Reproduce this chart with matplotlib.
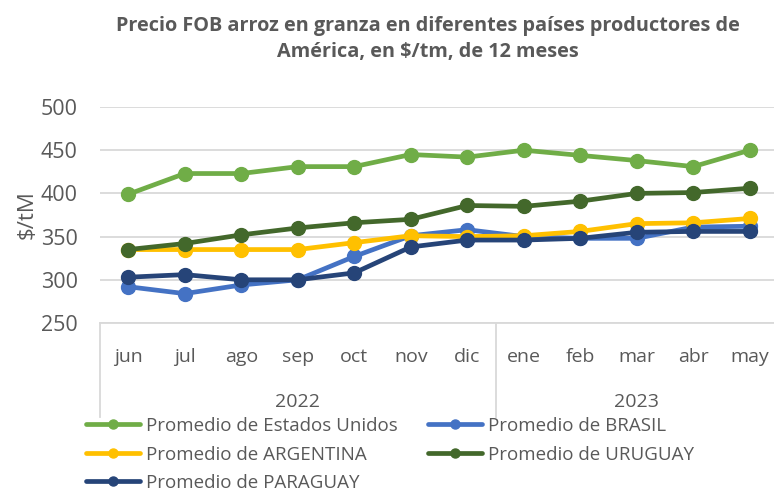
import matplotlib
matplotlib.use('Agg')
import matplotlib.pyplot as plt
import matplotlib.transforms as mtransforms

plt.rcParams['font.family'] = ['Open Sans', 'DejaVu Sans']

months = ['jun', 'jul', 'ago', 'sep', 'oct', 'nov', 'dic', 'ene', 'feb', 'mar', 'abr', 'may']
years = ['2022', '2023']
year_spans = [(0, 6), (7, 11)]

estados_unidos = [399, 423, 423, 431, 431, 445, 442, 450, 444, 438, 431, 450]
brasil = [292, 284, 294, 300, 327, 351, 358, 350, 348, 348, 361, 362]
argentina = [335, 335, 335, 335, 343, 351, 350, 351, 356, 365, 366, 371]
uruguay = [335, 342, 352, 360, 366, 370, 386, 385, 391, 400, 401, 406]
paraguay = [303, 306, 300, 300, 308, 338, 346, 346, 348, 355, 356, 356]

series = [
  ('Promedio de Estados Unidos', estados_unidos, '#70AD47'),
  ('Promedio de BRASIL', brasil, '#4472C4'),
  ('Promedio de ARGENTINA', argentina, '#FFC000'),
  ('Promedio de URUGUAY', uruguay, '#43682B'),
  ('Promedio de PARAGUAY', paraguay, '#264478'),
]

text_color = '#595959'
grid_color = '#D9D9D9'

fig = plt.figure(figsize=(7.74, 4.92), dpi=100)
ax = fig.add_axes([100/774, 1 - 323/492, 678/774, 216/492])

x = list(range(len(months)))
handles = {}
for name, vals, color in series:
  h, = ax.plot(x, vals, color=color, linewidth=3.4, marker='o', markersize=10,
               solid_capstyle='round', label=name, clip_on=False, zorder=3)
  handles[name] = h

ax.set_xlim(-0.5, 11.5)
ax.set_ylim(250, 500)
ax.set_yticks([250, 300, 350, 400, 450, 500])
ax.grid(axis='y', color=grid_color, linewidth=1.3)
ax.set_axisbelow(True)
for s in ['top', 'right', 'left']:
  ax.spines[s].set_visible(False)
ax.spines['bottom'].set_color(grid_color)
ax.spines['bottom'].set_linewidth(1.3)
ax.tick_params(axis='y', length=0, labelsize=15.5, labelcolor=text_color, pad=16)
ax.tick_params(axis='x', length=0, labelsize=14, labelcolor=text_color, pad=18)
ax.set_xticks(x)
ax.set_xticklabels(months)
ax.set_ylabel('$/tM', fontsize=16, color=text_color, labelpad=2)

# multi-level category axis: year labels and separators
trans = mtransforms.blended_transform_factory(ax.transData, ax.transAxes)
for xs in [-0.5, 6.5, 11.5]:
  ax.plot([xs, xs], [0, -0.435], color=grid_color, linewidth=1.3, transform=trans, clip_on=False)
for label, (a, b) in zip(years, year_spans):
  ax.text((a + b) / 2, -0.365, label, transform=trans, ha='center', va='center',
          fontsize=14, color=text_color)

fig.text(428/774, 0.921, 'Precio FOB arroz en granza en diferentes países productores de\nAmérica, en $/tm, de 12 meses',
         ha='center', va='center', fontsize=14.3, fontweight='bold', color=text_color, linespacing=1.4)

order = ['Promedio de Estados Unidos', 'Promedio de ARGENTINA', 'Promedio de PARAGUAY',
         'Promedio de BRASIL', 'Promedio de URUGUAY']
leg = fig.legend([handles[n] for n in order], order, ncol=2, loc='upper left',
                 bbox_to_anchor=(86/774, 1 - 417/492), frameon=False, fontsize=13.5,
                 handlelength=2.9, handletextpad=0.3, columnspacing=1.6, labelspacing=0.56,
                 borderaxespad=0, borderpad=0, markerscale=0.65)
for t in leg.get_texts():
  t.set_color(text_color)

fig.savefig('out.png', dpi=100)
